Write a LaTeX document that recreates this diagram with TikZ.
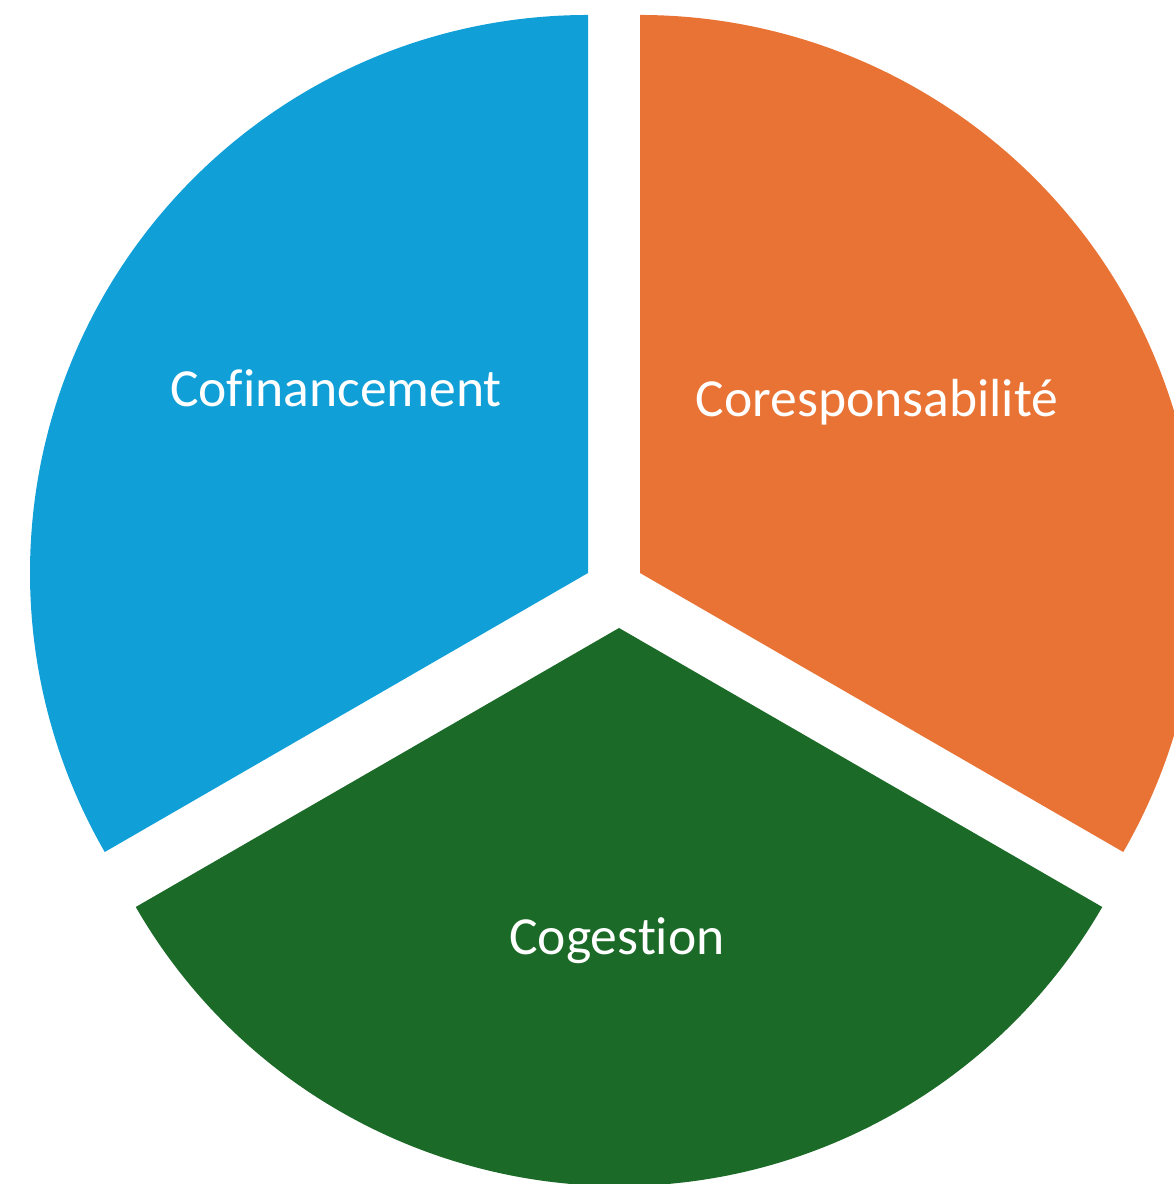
\documentclass[tikz,border=0pt]{standalone}
\usepackage{fontspec}
\setmainfont[Ligatures={NoCommon}]{Carlito}
\usetikzlibrary{positioning,calc}

\definecolor{pieblue}{RGB}{17,159,215}
\definecolor{pieorange}{RGB}{233,115,52}
\definecolor{piegreen}{RGB}{27,106,39}

\tikzset{
    slice/.style={draw=none},
    label/.style={text=white, anchor=base, font=\fontsize{30.5}{36}\selectfont}
}

\begin{document}
\begin{tikzpicture}
    \useasboundingbox (0,0) rectangle (23.48,23.68);
    \clip (0,0) rectangle (23.48,23.68);

    %coordinates
    \coordinate (Bl) at (11.76,12.22);
    \coordinate (Or) at (12.80,12.22);
    \coordinate (Gr) at (12.38,11.12);

    %slices
    \fill[slice, pieblue] (Bl) -- ++(90:11.16) arc (90:210:11.16) -- cycle;
    \fill[slice, pieorange] (Or) -- ++(-30:11.16) arc (-30:90:11.16) -- cycle;
    \fill[slice, piegreen] (Gr) -- ++(210:11.16) arc (210:330:11.16) -- cycle;

    %nodes
    \node[label] (cofin) at (6.72,15.54) {Cofinancement};
    \node[label] (coresp) at (17.54,15.34) {Coresponsabilité};
    \node[label] (coges) at (12.34,4.58) {Cogestion};
\end{tikzpicture}
\end{document}
